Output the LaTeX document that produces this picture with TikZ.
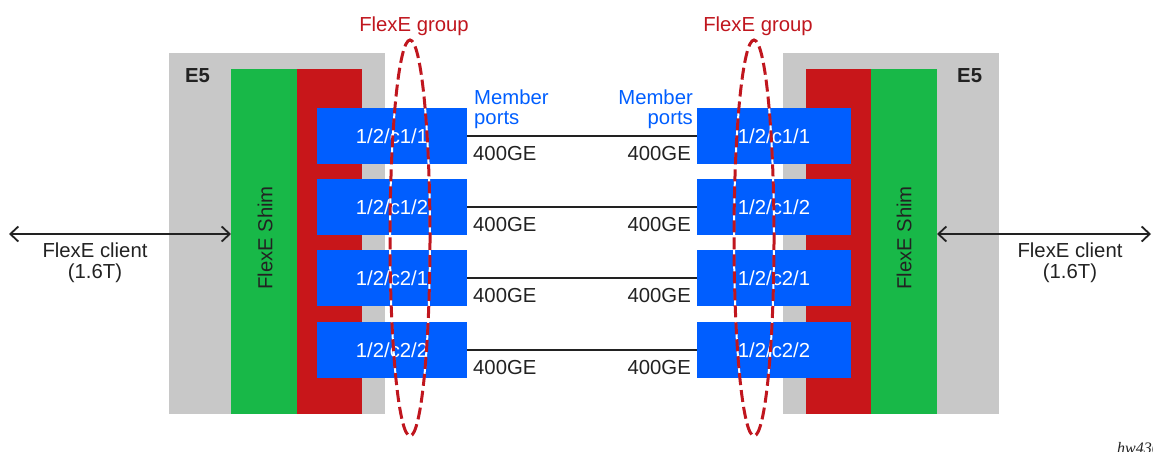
\documentclass[tikz,border=0pt]{standalone}
\usepackage{fontspec}
\setmainfont{Liberation Sans}
\newfontfamily\hwfont{Liberation Serif}
\usetikzlibrary{arrows.meta}
\definecolor{egrey}{RGB}{200,200,200}
\definecolor{egreen}{RGB}{24,184,72}
\definecolor{ered}{RGB}{200,22,26}
\definecolor{eblue}{RGB}{0,94,255}
\definecolor{gred}{RGB}{192,22,30}
\definecolor{txt}{RGB}{34,34,34}
\begin{document}
\begin{tikzpicture}[x=1pt,y=-1pt,
  font=\fontsize{20.3}{20}\selectfont,
  panel/.style={inner sep=0pt, outer sep=0pt, anchor=north west, draw=none},
  port/.style={fill=eblue, text=white, inner sep=0pt, outer sep=0pt, anchor=north west, minimum height=56pt},
  lbl/.style={inner sep=0pt, text=txt},
  conn/.style={draw=txt, line width=1.8pt},
  flow/.style={draw=txt, line width=1.8pt, {Straight Barb[length=8pt,width=15pt]}-{Straight Barb[length=8pt,width=15pt]}},
  grp/.style={draw=gred, line width=3pt, dash pattern=on 12pt off 5pt},
  grpbg/.style={draw=white, line width=2pt}]
\useasboundingbox (0,0) rectangle (1153,452);

% left device
\node[panel, fill=egrey, minimum width=216pt, minimum height=361pt] (greyL) at (169,53) {};
\node[panel, fill=egreen, minimum width=66pt, minimum height=345pt] (greenL) at (231,69) {};
\node[panel, fill=ered, minimum width=65pt, minimum height=345pt] (redL) at (297,69) {};
\node[lbl, anchor=base west, font=\fontsize{20.3}{20}\selectfont\bfseries] (e5L) at (185,82) {E5};
\node[lbl, rotate=90] (shimL) at (265,238) {FlexE Shim};

% right device
\node[panel, fill=egrey, minimum width=216pt, minimum height=361pt] (greyR) at (783,53) {};
\node[panel, fill=ered, minimum width=65pt, minimum height=345pt] (redR) at (806,69) {};
\node[panel, fill=egreen, minimum width=66pt, minimum height=345pt] (greenR) at (871,69) {};
\node[lbl, anchor=base west, font=\fontsize{20.3}{20}\selectfont\bfseries] (e5R) at (957,82) {E5};
\node[lbl, rotate=90] (shimR) at (904,238) {FlexE Shim};

% ports
\node[port, minimum width=150pt] (pL1) at (317,108) {1/2/c1/1};
\node[port, minimum width=150pt] (pL2) at (317,179) {1/2/c1/2};
\node[port, minimum width=150pt] (pL3) at (317,250) {1/2/c2/1};
\node[port, minimum width=150pt] (pL4) at (317,322) {1/2/c2/2};
\node[port, minimum width=154pt] (pR1) at (697,108) {1/2/c1/1};
\node[port, minimum width=154pt] (pR2) at (697,179) {1/2/c1/2};
\node[port, minimum width=154pt] (pR3) at (697,250) {1/2/c2/1};
\node[port, minimum width=154pt] (pR4) at (697,322) {1/2/c2/2};

% links
\foreach \i in {1,2,3,4}{
  \draw[conn] (pL\i.east) -- (pR\i.west);
  \node[lbl, anchor=base west] (gL\i) at ([xshift=6pt,yshift=-24pt]pL\i.east) {400GE};
  \node[lbl, anchor=base east] (gR\i) at ([xshift=-6pt,yshift=-24pt]pR\i.west) {400GE};
}

% member ports labels
\node[inner sep=0pt, anchor=north west, align=left, text=eblue] (mpL) at (474,90) {Member\\ports};
\node[inner sep=0pt, anchor=north east, align=right, text=eblue] (mpR) at (693,90) {Member\\ports};

% clients
\coordinate (cL) at (9,234);
\coordinate (cR) at (1151,234);
\draw[flow] (cL) -- (greenL.west |- cL);
\draw[flow] (greenR.east |- cR) -- (cR);
\node[lbl, anchor=north, align=center, font=\fontsize{20.3}{21}\selectfont] (clL) at (95,243) {FlexE client\\(1.6T)};
\node[lbl, anchor=north, align=center, font=\fontsize{20.3}{21}\selectfont] (clR) at (1070,243) {FlexE client\\(1.6T)};

% groups
\draw[grpbg] (410,238) ellipse [x radius=20, y radius=198];
\draw[grp] (410,238) ellipse [x radius=20, y radius=198];
\draw[grpbg] (754,238) ellipse [x radius=20, y radius=198];
\draw[grp] (754,238) ellipse [x radius=20, y radius=198];
\node[inner sep=0pt, anchor=base, text=gred] (fgL) at (414,32) {FlexE group};
\node[inner sep=0pt, anchor=base, text=gred] (fgR) at (758,32) {FlexE group};

% figure id
\node[inner sep=0pt, anchor=base west, font=\hwfont\itshape\fontsize{16}{16}\selectfont, text=txt] (hw) at (1117,453) {hw4301};
\end{tikzpicture}
\end{document}
